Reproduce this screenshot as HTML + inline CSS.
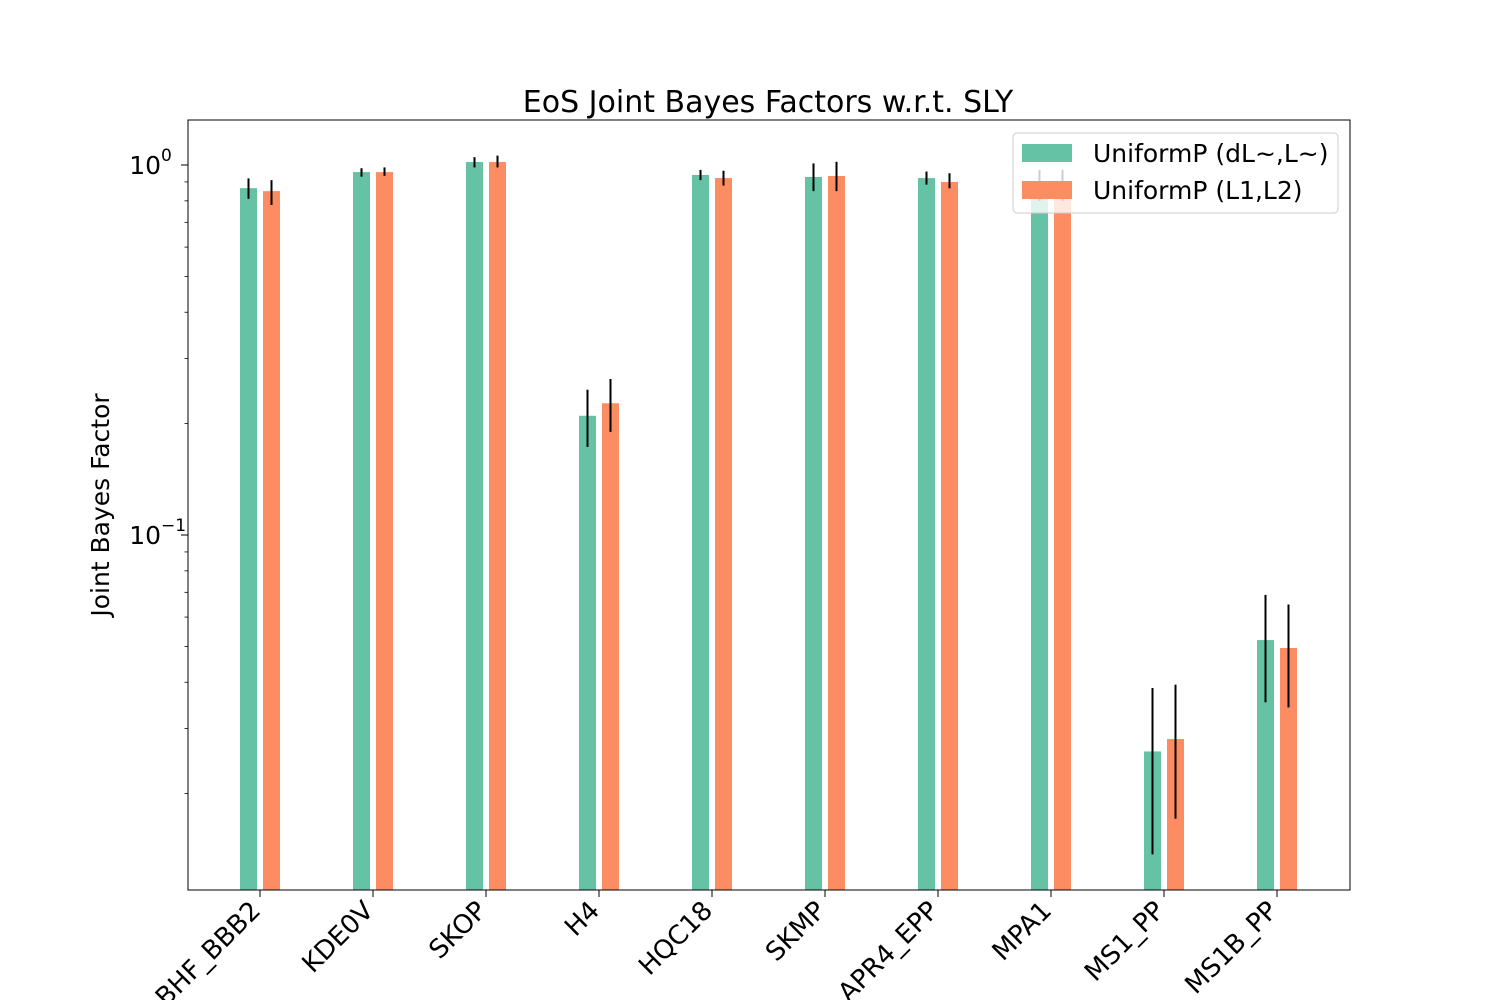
<!DOCTYPE html>
<html><head><meta charset="utf-8"><style>
body{margin:0;background:#fff}
svg{font-family:"DejaVu Sans","Liberation Sans",sans-serif}
</style></head><body>
<svg id="c" width="1500" height="1000" xmlns="http://www.w3.org/2000/svg"></svg>
<script>
const categories=["BHF_BBB2","KDE0V","SKOP","H4","HQC18","SKMP","APR4_EPP","MPA1","MS1_PP","MS1B_PP"];
const seriesA=[0.866,0.957,1.019,0.21,0.94,0.928,0.922,0.88,0.026,0.052];
const errLoA=[0.81,0.93,0.985,0.173,0.91,0.85,0.885,0.80,0.0137,0.0353];
const errHiA=[0.92,0.98,1.05,0.247,0.97,1.01,0.96,0.97,0.0386,0.0689];
const seriesB=[0.85,0.957,1.019,0.227,0.922,0.934,0.90,0.88,0.0281,0.0495];
const errLoB=[0.78,0.935,0.985,0.19,0.88,0.85,0.865,0.80,0.0171,0.0342];
const errHiB=[0.91,0.985,1.06,0.264,0.965,1.02,0.95,0.97,0.0394,0.0649];
const seriesNames=["UniformP (dL~,L~)","UniformP (L1,L2)"];
const yTicks=[1,0.1];
const yTickLabels=["10","10"];
const yTickExp=["0","\u22121"];
const svg=document.getElementById('c');
const NS='http://www.w3.org/2000/svg';
function mk(t,a,p){const e=document.createElementNS(NS,t);for(const k in a)e.setAttribute(k,a[k]);(p||svg).appendChild(e);return e;}
const L=188,R=1350,T=120,B=890;
const y=v=>165-Math.log10(v)*370;
const x=i=>260+i*113;
const bw=17;
const cols=["#66c2a5","#fc8d62"];
const sets=[[seriesA,errLoA,errHiA],[seriesB,errLoB,errHiB]];
sets.forEach((s,si)=>{
  s[0].forEach((v,i)=>{
    const cx=x(i)+(si===0?-11.5:11.5);
    const r=mk('rect',{x:cx-bw/2,y:y(v),width:bw,height:B-y(v),fill:cols[si]});
    
    
    const l=mk('line',{x1:cx,x2:cx,y1:y(s[1][i]),y2:y(s[2][i]),stroke:'#000','stroke-width':2});
    
    
  });
});
const ax=mk('rect',{x:L,y:T,width:R-L,height:B-T,fill:'none',stroke:'#000','stroke-width':1});


[0.02,0.03,0.04,0.05,0.06,0.07,0.08,0.09,0.2,0.3,0.4,0.5,0.6,0.7,0.8,0.9].forEach(v=>{mk('line',{x1:L-3.5,x2:L,y1:y(v),y2:y(v),stroke:'#000','stroke-width':0.8});});
yTicks.forEach((v,i)=>{
  mk('line',{x1:L-7,x2:L,y1:y(v),y2:y(v),stroke:'#000','stroke-width':1});
  const t=mk('text',{x:L-27,y:y(v)+9,'font-size':25,'text-anchor':'end'});
  t.textContent=yTickLabels[i];
  
  
  const e=mk('text',{x:L-27,y:y(v)-4,'font-size':17,'text-anchor':'start'});
  e.textContent=yTickExp[i];
});
categories.forEach((c,i)=>{
  mk('line',{x1:x(i),x2:x(i),y1:B,y2:B+7,stroke:'#000','stroke-width':1});
  const t=mk('text',{x:0,y:0,'font-size':26,'text-anchor':'end',transform:`translate(${x(i)+2},${B+22}) rotate(-45)`});
  t.textContent=c;
  
  
});
const ti=mk('text',{x:768,y:112,'font-size':30,'text-anchor':'middle'});ti.textContent='EoS Joint Bayes Factors w.r.t. SLY';

const yl=mk('text',{x:0,y:0,'font-size':25,'text-anchor':'middle',transform:'translate(109,505) rotate(-90)'});yl.textContent='Joint Bayes Factor';

const lg=mk('g',{});
mk('rect',{x:1013,y:133,width:325,height:80,rx:4,fill:'#fff','fill-opacity':0.8,stroke:'#ccc'},lg);
seriesNames.forEach((n,i)=>{
  const p=mk('rect',{x:1022,y:144+i*37,width:50,height:18,fill:cols[i]},lg);
  
  const t=mk('text',{x:1093,y:162+i*37,'font-size':25},lg);t.textContent=n;
  
});
</script>
</body></html>
